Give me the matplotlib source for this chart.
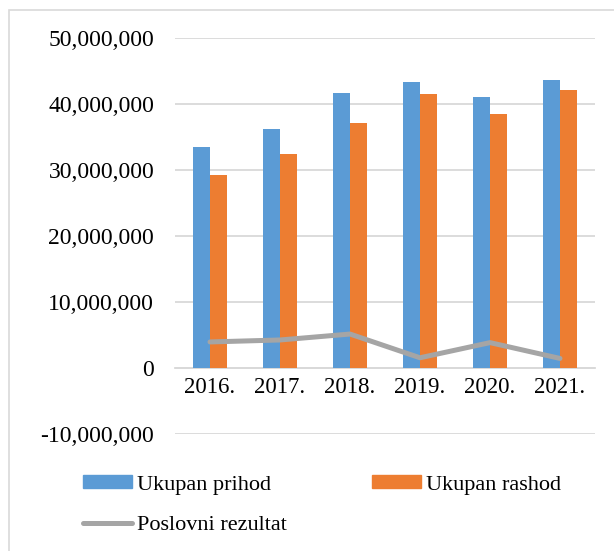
import matplotlib
matplotlib.use("Agg")
import matplotlib.pyplot as plt
from matplotlib.patches import Rectangle, Patch
from matplotlib.lines import Line2D
from matplotlib.ticker import FuncFormatter
import numpy as np

plt.rcParams['font.family'] = ['Liberation Serif', 'DejaVu Serif']

years = ["2016.", "2017.", "2018.", "2019.", "2020.", "2021."]
prihod = [33.4e6, 36.2e6, 41.7e6, 43.3e6, 41.1e6, 43.7e6]
rashod = [29.2e6, 32.4e6, 37.1e6, 41.5e6, 38.5e6, 42.1e6]
rezultat = [3.9e6, 4.2e6, 5.1e6, 1.5e6, 3.8e6, 1.4e6]
yticks = [-10e6, 0, 10e6, 20e6, 30e6, 40e6, 50e6]

W, H = 614, 551
fig = plt.figure(figsize=(W/100, H/100), dpi=100)

# chart border (only top/left visible)
fig.patches.append(Rectangle((9/W, -0.2), 1.5, 1.2 - 10/H, transform=fig.transFigure,
                             fill=False, edgecolor='#d9d9d9', linewidth=1.2))

ax = fig.add_axes([175/W, 1 - 433.6/H, 420/W, (433.6 - 38)/H])
x = np.arange(len(years))
bw = 0.236
ax.bar(x - bw/2, prihod, bw, color='#5b9bd5', zorder=3)
ax.bar(x + bw/2, rashod, bw, color='#ed7d31', zorder=3)
ax.plot(x, rezultat, color='#a5a5a5', linewidth=3.6, solid_capstyle='round', zorder=4)

ax.set_xlim(-0.5, len(years) - 0.5)
ax.set_ylim(-10e6, 50e6)
ax.set_yticks(yticks)
ax.yaxis.set_major_formatter(FuncFormatter(lambda v, p: f"{int(v):,}"))
ax.grid(axis='y', color='#d9d9d9', linewidth=1.3, zorder=0)
for s in ['top', 'right', 'left']:
    ax.spines[s].set_visible(False)
ax.spines['bottom'].set_position(('data', 0))
ax.spines['bottom'].set_color('#d9d9d9')
ax.spines['bottom'].set_linewidth(1.3)
ax.set_xticks(x)
ax.set_xticklabels(years)
ax.tick_params(axis='x', length=0, labelsize=16.5, pad=7)
ax.tick_params(axis='y', length=0, labelsize=17, pad=15)

handles = [Patch(color='#5b9bd5', label='Ukupan prihod'),
           Line2D([], [], color='#a5a5a5', linewidth=3.6, solid_capstyle='round', label='Poslovni rezultat'),
           Patch(color='#ed7d31', label='Ukupan rashod')]
fig.legend(handles=handles, ncol=2, loc='upper left', bbox_to_anchor=(83/W, 1 - 475/H),
           frameon=False, fontsize=16, borderpad=0, borderaxespad=0,
           handlelength=2.2, handleheight=0.55, handletextpad=0.25,
           columnspacing=3.8, labelspacing=0.95)

fig.savefig('out.png', dpi=100)
